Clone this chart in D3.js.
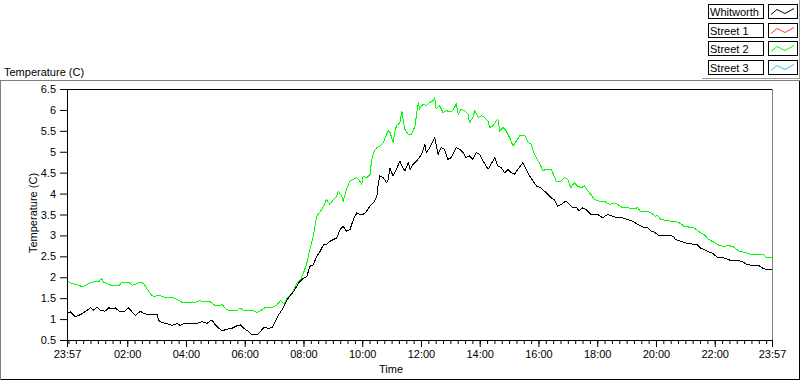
<!DOCTYPE html>
<html>
<head>
<meta charset="utf-8">
<script src="https://cdn.jsdelivr.net/npm/d3@7"></script>
<style>
  body { margin: 0; background: #fff; }
  svg { display: block; font-family: "Liberation Sans", Arial, sans-serif; font-size: 11px; }
</style>
</head>
<body>
<svg id="chart" width="800" height="380"></svg>
<script>
// minutes since 23:57 (start of the record), temperatures in C
const whitworthMinutes = [0,7,17,24,31,41,48,55,61,68,78,85,92,99,106,116,126,133,140,150,157,167,184,187,194,204,214,225,231,238,249,266,276,286,296,303,310,317,327,337,347,354,361,371,378,388,395,402,412,419,425,432,439,446,453,463,473,476,483,490,496,503,510,517,524,530,537,544,551,558,564,571,578,585,592,598,605,612,619,626,633,636,639,646,653,656,660,663,666,673,680,684,690,697,701,707,714,717,724,731,734,741,748,751,754,758,764,771,778,785,795,802,809,815,822,829,836,843,850,860,866,874,880,887,894,901,907,914,921,931,938,945,952,959,968,975,982,989,995,1002,1009,1019,1026,1033,1040,1046,1053,1060,1070,1084,1094,1104,1115,1125,1135,1145,1155,1166,1176,1186,1193,1199,1209,1220,1233,1240,1243,1254,1264,1274,1287,1294,1308,1318,1328,1342,1356,1369,1379,1389,1403,1413,1423,1437,1440];
const whitworthTemps = [1.13,1.17,1.05,1.09,1.13,1.21,1.27,1.21,1.29,1.21,1.19,1.27,1.25,1.27,1.19,1.17,1.27,1.17,1.09,1.19,1.13,1.11,1.11,0.97,0.92,0.89,0.85,0.89,0.85,0.89,0.90,0.90,0.94,0.90,0.98,0.86,0.78,0.72,0.76,0.78,0.84,0.86,0.78,0.70,0.62,0.62,0.70,0.80,0.78,0.80,0.94,1.10,1.22,1.38,1.52,1.66,1.86,1.90,1.98,2.02,2.26,2.30,2.50,2.62,2.78,2.78,2.86,2.90,2.94,3.14,3.22,3.10,3.14,3.38,3.54,3.50,3.50,3.58,3.70,3.78,3.94,4.26,4.42,4.38,4.26,4.34,4.62,4.50,4.42,4.58,4.78,4.66,4.54,4.74,4.58,4.70,4.78,4.82,4.94,5.18,4.98,5.10,5.26,5.34,5.18,4.94,5.10,5.06,4.82,4.86,5.10,5.06,4.98,4.86,4.90,4.82,4.98,4.94,4.78,4.58,4.70,4.86,4.66,4.62,4.50,4.58,4.50,4.46,4.58,4.74,4.58,4.42,4.30,4.18,4.14,4.06,3.98,3.90,3.86,3.70,3.74,3.82,3.74,3.66,3.68,3.58,3.66,3.62,3.50,3.50,3.42,3.50,3.46,3.42,3.42,3.38,3.34,3.26,3.20,3.18,3.10,3.08,3.00,3.00,3.00,2.96,2.90,2.86,2.82,2.80,2.78,2.70,2.62,2.58,2.48,2.46,2.40,2.40,2.38,2.30,2.28,2.28,2.20,2.18,2.18];

const street2Minutes = [0,10,17,24,31,41,51,58,65,70,75,82,92,106,112,126,133,143,150,157,163,170,177,187,201,214,221,228,235,245,262,272,279,293,303,317,327,337,347,354,361,371,381,388,395,405,419,429,436,443,449,460,470,477,483,490,496,503,510,517,524,530,537,544,551,554,561,564,571,578,585,592,598,602,605,612,619,622,626,633,639,646,650,656,660,666,670,673,680,684,687,690,697,704,711,714,718,720,727,734,741,748,751,754,761,768,775,782,788,795,799,805,812,819,822,829,833,840,846,853,860,863,870,877,880,884,891,897,904,911,918,925,935,942,948,955,961,965,972,978,989,992,999,1009,1016,1023,1029,1036,1043,1050,1057,1064,1070,1077,1087,1097,1108,1118,1125,1135,1145,1155,1166,1172,1183,1193,1202,1206,1213,1223,1233,1243,1254,1260,1270,1281,1294,1301,1311,1321,1332,1342,1352,1362,1373,1383,1393,1403,1413,1423,1430,1440];
const street2Temps = [1.92,1.85,1.83,1.81,1.77,1.83,1.88,1.91,1.89,1.97,1.88,1.85,1.80,1.80,1.88,1.88,1.81,1.85,1.88,1.85,1.73,1.61,1.53,1.57,1.52,1.52,1.49,1.45,1.40,1.40,1.40,1.44,1.41,1.41,1.32,1.34,1.22,1.20,1.20,1.26,1.20,1.20,1.20,1.16,1.20,1.28,1.28,1.34,1.44,1.36,1.50,1.62,1.86,1.94,2.10,2.34,2.66,2.98,3.46,3.56,3.70,3.86,3.74,3.86,3.94,4.06,3.94,3.82,4.10,4.30,4.34,4.38,4.30,4.22,4.42,4.38,4.46,4.78,4.98,5.10,5.14,5.22,5.34,5.50,5.46,5.22,5.50,5.62,5.70,5.98,5.74,5.54,5.42,5.42,5.62,5.90,6.18,6.02,6.14,6.10,6.18,6.22,6.30,6.02,6.10,5.94,5.98,5.96,5.98,6.14,5.90,6.02,5.98,5.90,5.70,5.82,5.98,5.82,5.86,5.82,5.74,5.58,5.62,5.74,5.78,5.50,5.58,5.50,5.34,5.14,5.26,5.38,5.38,5.22,5.18,4.94,4.80,4.74,4.54,4.58,4.58,4.50,4.30,4.30,4.38,4.34,4.14,4.26,4.18,4.14,4.18,4.06,3.98,3.86,3.82,3.82,3.74,3.78,3.74,3.66,3.66,3.64,3.66,3.56,3.58,3.54,3.46,3.48,3.38,3.36,3.34,3.34,3.28,3.22,3.20,3.18,3.06,3.02,2.90,2.84,2.76,2.74,2.76,2.72,2.62,2.60,2.56,2.54,2.54,2.54,2.46,2.48];

const legendNames = ['Whitworth', 'Street 1', 'Street 2', 'Street 3'];
const legendColors = ['#000000', '#ff3a3a', '#00ff00', '#33bbff'];

const xTickMinutes = [0, 123, 243, 363, 483, 603, 723, 843, 963, 1083, 1203, 1323, 1440];
const xTickLabels = ['23:57', '02:00', '04:00', '06:00', '08:00', '10:00', '12:00', '14:00', '16:00', '18:00', '20:00', '22:00', '23:57'];
const yTicks = [0.5, 1, 1.5, 2, 2.5, 3, 3.5, 4, 4.5, 5, 5.5, 6, 6.5];

const plot = {left: 67, right: 772, top: 89, bottom: 340};
const svg = d3.select('#chart');

// outer sunken frame
svg.append('line').attr('x1', 0).attr('x2', 800).attr('y1', 80.5).attr('y2', 80.5).attr('stroke', '#808080');
svg.append('line').attr('x1', 0.5).attr('x2', 0.5).attr('y1', 80).attr('y2', 380).attr('stroke', '#808080');
svg.append('line').attr('x1', 799.5).attr('x2', 799.5).attr('y1', 81).attr('y2', 380).attr('stroke', '#000');
svg.append('line').attr('x1', 1).attr('x2', 800).attr('y1', 379.5).attr('y2', 379.5).attr('stroke', '#000');

svg.append('text').attr('x', 4).attr('y', 76).text('Temperature (C)');

let x = d3.scaleLinear().domain([0, 1440]).range([plot.left, plot.right]);
let y = d3.scaleLinear().domain([0.5, 6.5]).range([plot.bottom, plot.top]);

// plot border: top black, right grey
svg.append('line').attr('x1', plot.left).attr('x2', plot.right + 1).attr('y1', plot.top + 0.5).attr('y2', plot.top + 0.5).attr('stroke', '#000');
svg.append('line').attr('x1', plot.right + 0.5).attr('x2', plot.right + 0.5).attr('y1', plot.top).attr('y2', plot.bottom + 1).attr('stroke', '#808080');

// minor time ticks every 15 minutes (from 00:00)
const minorTicks = [0].concat(d3.range(3, 1440, 15), [1440]);
svg.append('g')
  .attr('transform', 'translate(0,' + plot.bottom + ')')
  .call(d3.axisBottom(x).tickValues(minorTicks).tickSize(4).tickSizeOuter(0).tickFormat(''))
  .call(g => g.select('.domain').remove());

const xAxis = svg.append('g')
  .attr('transform', 'translate(0,' + plot.bottom + ')')
  .call(d3.axisBottom(x).tickValues(xTickMinutes).tickSize(7).tickSizeOuter(0).tickPadding(3)
    .tickFormat((d, i) => xTickLabels[i]));

const yAxis = svg.append('g')
  .attr('transform', 'translate(' + plot.left + ',0)')
  .call(d3.axisLeft(y).tickValues(yTicks).tickSize(7).tickSizeOuter(0).tickPadding(4)
    .tickFormat(d => String(d)));

svg.selectAll('.tick text').attr('font-family', '"Liberation Sans", Arial, sans-serif').attr('font-size', 11).attr('fill', '#000');
svg.selectAll('.tick line, .domain').attr('stroke', '#000');

svg.append('text').attr('x', 391).attr('y', 373).attr('text-anchor', 'middle').text('Time');
svg.append('text')
  .attr('transform', 'translate(37,' + 213 + ') rotate(-90)')
  .attr('text-anchor', 'middle')
  .text('Temperature (C)');

// data lines
svg.append('clipPath').attr('id', 'plotclip')
  .append('rect').attr('x', plot.left + 1).attr('y', plot.top + 1)
  .attr('width', plot.right - plot.left - 1).attr('height', plot.bottom - plot.top - 1);

const line = d3.line().x(d => x(d[0])).y(d => y(d[1]));
const series = [
  {name: 'Street 2', color: legendColors[2], data: d3.zip(street2Minutes, street2Temps)},
  {name: 'Whitworth', color: legendColors[0], data: d3.zip(whitworthMinutes, whitworthTemps)}
];
svg.append('g').attr('clip-path', 'url(#plotclip)')
  .selectAll('path')
  .data(series)
  .enter()
  .append('path')
    .attr('d', s => line(s.data))
    .attr('fill', 'none')
    .attr('stroke', s => s.color)
    .attr('stroke-width', 1)
    .attr('shape-rendering', 'crispEdges');

// legend (top right)
const legend = svg.append('g');
const rowY = i => 4 + i * 18.7;
legendNames.forEach((name, i) => {
  let top = Math.round(rowY(i)) + 0.5;
  legend.append('rect').attr('x', 708.5).attr('y', top).attr('width', 55).attr('height', 14)
    .attr('fill', '#fff').attr('stroke', '#000');
  legend.append('text').attr('x', 710).attr('y', top + 11.5).text(name);
  legend.append('rect').attr('x', 768.5).attr('y', top).attr('width', 29).attr('height', 14)
    .attr('fill', '#fff').attr('stroke', '#000');
  legend.append('polyline')
    .attr('points', [[771, top + 10], [777, top + 5], [785, top + 9], [794, top + 4]].join(' '))
    .attr('fill', 'none').attr('stroke', legendColors[i]);
});
legend.append('line').attr('x1', 799.5).attr('x2', 799.5).attr('y1', 0).attr('y2', 79).attr('stroke', '#a0a0a0');
legend.append('line').attr('x1', 702).attr('x2', 800).attr('y1', 78.5).attr('y2', 78.5).attr('stroke', '#a0a0a0');
</script>
</body>
</html>
